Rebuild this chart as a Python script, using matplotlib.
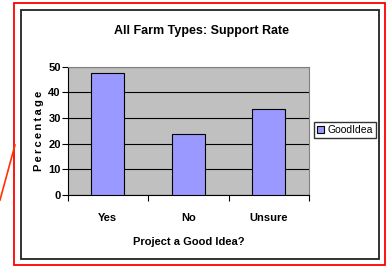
import matplotlib.pyplot as plt
from matplotlib.patches import Rectangle
from matplotlib.lines import Line2D

categorias = ['Yes', 'No', 'Unsure']
valores = [47.6, 23.8, 33.4]
serie = 'GoodIdea'

plt.rcParams['font.family'] = ['Liberation Sans', 'DejaVu Sans']

fig = plt.figure(figsize=(3.87, 2.67), dpi=100)
W, H = 387, 267

def fx(x):
    return x / W

def fy(y):
    return 1 - y / H

# marcos
fig.patches.append(Rectangle((fx(14), fy(265)), fx(371), (265 - 3) / H, transform=fig.transFigure,
                             fill=False, edgecolor='red', linewidth=1.3))
fig.patches.append(Rectangle((fx(21), fy(259)), fx(358), (259 - 10) / H, transform=fig.transFigure,
                             fill=False, edgecolor='#222222', linewidth=1.3))
fig.lines.append(Line2D([fx(15), fx(0)], [fy(145), fy(200)], transform=fig.transFigure,
                        color='#ff3300', linewidth=1.2))

ax = fig.add_axes([fx(67.7), fy(195), fx(309 - 67.7), (195 - 66.7) / H])
ax.set_facecolor('#c0c0c0')
x = range(len(categorias))
barras = ax.bar(x, valores, width=0.41, color='#9999ff', edgecolor='black', linewidth=0.8,
                label=serie, zorder=3)
ax.set_xlim(-0.5, 2.5)
ax.set_ylim(0, 50)
ax.set_yticks(range(0, 51, 10))
ax.yaxis.grid(True, color='black', linewidth=0.8, zorder=1)
ax.tick_params(axis='y', labelsize=8, length=4, width=0.8, pad=1)
for t in ax.get_yticklabels():
    t.set_fontweight('bold')
ax.set_xticks(list(x))
ax.set_xticklabels(categorias, fontsize=8, fontweight='bold')
ax.tick_params(axis='x', length=0, pad=13)
ax.set_xticks([-0.5, 0.5, 1.5, 2.5], minor=True)
ax.tick_params(axis='x', which='minor', length=4, width=0.8)
for s in ['top', 'right']:
    ax.spines[s].set_color('#808080')
    ax.spines[s].set_linewidth(0.8)
for s in ['left', 'bottom']:
    ax.spines[s].set_linewidth(0.8)

ax.set_xlabel('Project a Good Idea?', fontsize=8, fontweight='bold', labelpad=10)
ax.set_ylabel('\u2009'.join('Percentage'), fontsize=8, fontweight='bold', labelpad=3)
fig.text(fx(202), fy(31), 'All Farm Types: Support Rate', ha='center', va='center',
         fontsize=9, fontweight='bold')

fig.legend(handles=[barras], loc='center left', bbox_to_anchor=(fx(314), fy(130)),
           fontsize=7.5, frameon=True, fancybox=False, edgecolor='black', handlelength=0.7,
           handleheight=0.7, handletextpad=0.3, borderpad=0.3, borderaxespad=0)

fig.savefig('out.png', dpi=100)
